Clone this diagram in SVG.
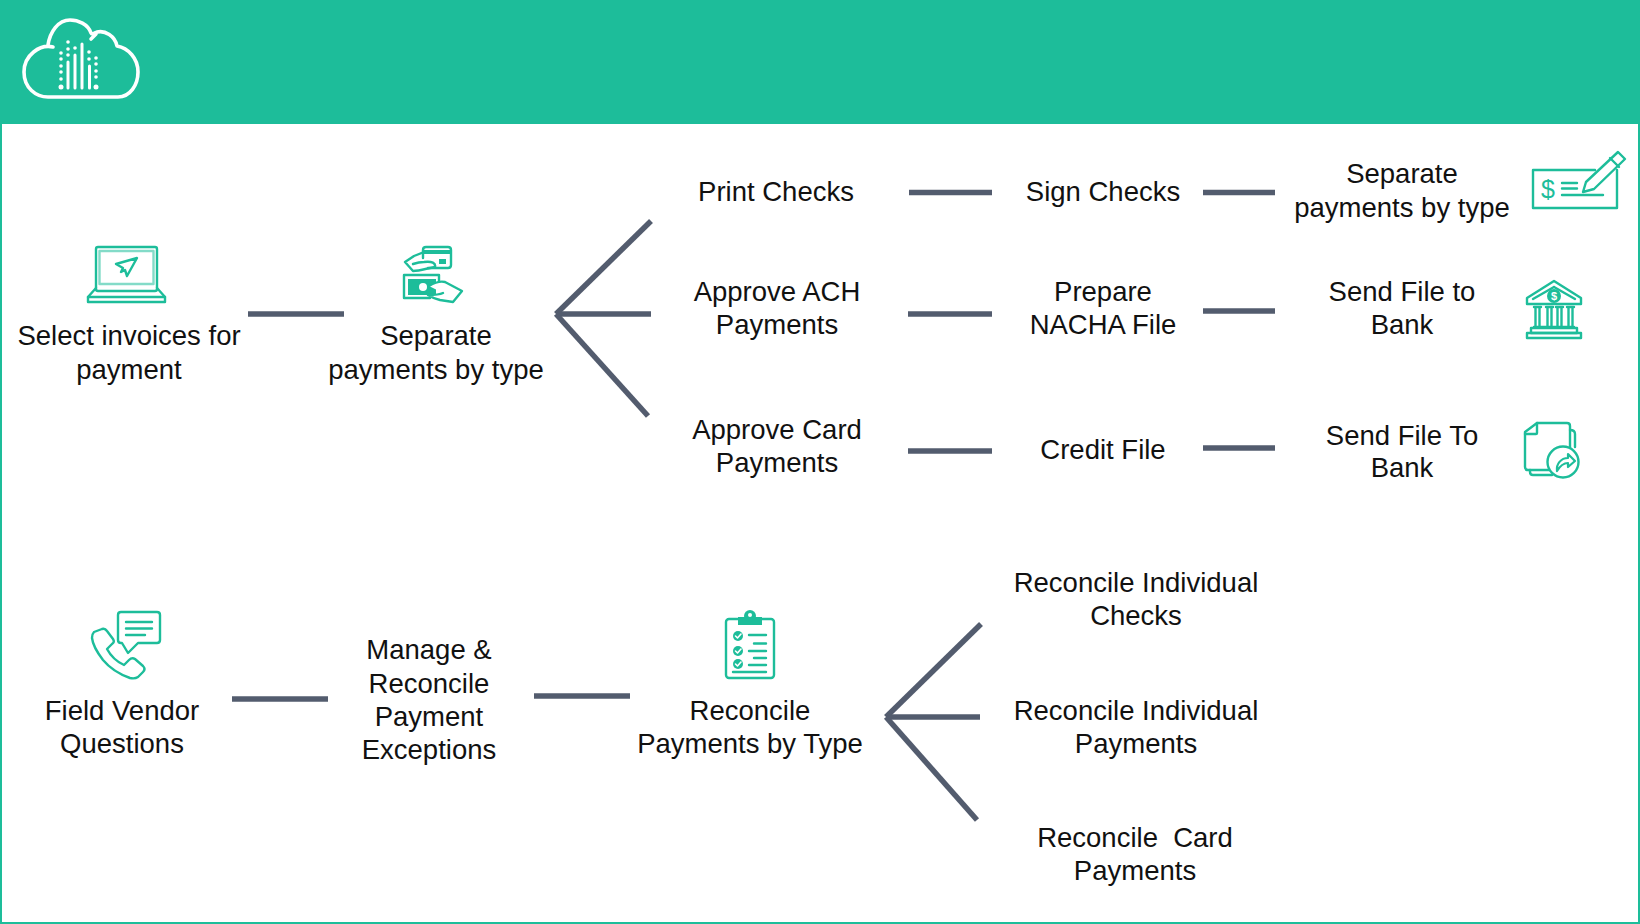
<svg xmlns="http://www.w3.org/2000/svg" width="1640" height="924" viewBox="0 0 1640 924">
<style>
text{font-family:"Liberation Sans",Arial,sans-serif;font-size:27.5px;fill:#111;text-anchor:middle;white-space:pre}
.c line{stroke:#535c6e;stroke-width:5.5;fill:none}
.i{fill:none;stroke:#1dbd9a;stroke-width:2.4;stroke-linejoin:round;stroke-linecap:round}
.i .f,.f{fill:#1dbd9a;stroke:none}
.w{fill:none;stroke:#fff;stroke-width:3.6;stroke-linecap:round;stroke-linejoin:round}
.d{fill:#fff}
.k{fill:none;stroke:#fff;stroke-width:1.6;stroke-linecap:round;stroke-linejoin:round}
</style>
<rect width="1640" height="924" fill="#fff"/>
<rect x="1" y="1" width="1638" height="922" fill="none" stroke="#1dbd9a" stroke-width="2"/>
<rect width="1640" height="124" fill="#1dbd9a"/>
<g id="logo">
<path class="w" d="M53 47C40 44 24 55 24 72C24 88 36 97 48 97L118 97C130 97 138 85 138 72C138 58 128 48 117 46C115 36 105 30 97 32C95 33 92 35 91 33C88 24 78 20 70 20C58 20 50 32 48 45"/>
<path class="w" d="M91 39L96 34"/>
<g stroke="#fff" stroke-width="3" stroke-linecap="round"><line x1="68" y1="62" x2="68" y2="88"/><line x1="75" y1="55" x2="75" y2="88"/><line x1="82" y1="44" x2="82" y2="88"/><line x1="89.500" y1="66" x2="89.500" y2="88"/></g>
<g class="d"><circle cx="61" cy="53" r="1.800"/><circle cx="61" cy="59" r="1.800"/><circle cx="61" cy="66" r="1.800"/><circle cx="61" cy="72" r="1.800"/><circle cx="61" cy="79" r="1.800"/><circle cx="61" cy="87" r="2.500"/><circle cx="68" cy="42" r="1.800"/><circle cx="68" cy="49" r="1.800"/><circle cx="68" cy="55" r="1.800"/><circle cx="75" cy="48" r="1.800"/><circle cx="89" cy="52" r="1.800"/><circle cx="89" cy="59" r="1.800"/><circle cx="96" cy="58" r="1.800"/><circle cx="96" cy="64" r="1.800"/><circle cx="96" cy="71" r="1.800"/><circle cx="96" cy="77" r="1.800"/><circle cx="96" cy="87" r="2.500"/></g>
</g>
<g class="c" id="connectors">
<line x1="248" y1="314" x2="344" y2="314"/>
<line x1="909" y1="192.500" x2="992" y2="192.500"/><line x1="1203" y1="192.500" x2="1275" y2="192.500"/>
<line x1="908" y1="314" x2="992" y2="314"/><line x1="1203" y1="311" x2="1275" y2="311"/>
<line x1="908" y1="451" x2="992" y2="451"/><line x1="1203" y1="448" x2="1275" y2="448"/>
<line x1="556" y1="314" x2="651" y2="221"/><line x1="556" y1="314" x2="651" y2="314"/><line x1="556" y1="314" x2="648" y2="416"/>
<line x1="232" y1="699" x2="328" y2="699"/><line x1="534" y1="696" x2="630" y2="696"/>
<line x1="886" y1="717" x2="981" y2="624"/><line x1="886" y1="717" x2="980" y2="717"/><line x1="886" y1="717" x2="977" y2="820"/>
</g>
<g id="n-select"><text x="129" y="345">Select invoices for</text><text x="129" y="379">payment</text>
<g class="i"><rect x="96" y="247" width="61" height="44" rx="2"/><rect x="99.500" y="251" width="54" height="33" stroke-opacity=".55"/><path d="M96 288L88 297V302H165V297L157 288"/><path d="M88 297H165"/><path d="M137 258L116 264L123 268L121 272L125 270L127 276Z"/></g></g>
<g id="n-separate"><text x="436" y="345">Separate</text><text x="436" y="379">payments by type</text>
<g class="i"><path d="M423 258V250Q423 247 426 247H448Q451 247 451 250V265Q451 268 448 268H428"/><path class="f" d="M423 250H451V254H423Z"/><rect class="f" x="439" y="259" width="7" height="5"/><path d="M424 252L414 256L405 262L413 271C420 271 428 268 435 267C436 263 432 261 424 262C420 262 416 263 413 264"/><path d="M439 283V275H404V298H430"/><path class="f" d="M408 279H436V295H408Z"/><circle cx="423" cy="287" r="4" fill="#fff" stroke="none"/><path d="M429 286C434 283 441 281 445 282L462 291L453 302L440 300C436 299 431 297 428 295C433 295 439 295 443 293" fill="#fff"/></g></g>
<g id="n-print"><text x="776" y="201">Print Checks</text></g>
<g id="n-sign"><text x="1103" y="201">Sign Checks</text></g>
<g id="n-sep2"><text x="1402" y="183">Separate</text><text x="1402" y="217">payments by type</text>
<g class="i"><path d="M1595 170H1533V208H1617V170"/><path d="M1583 192L1586 182L1618 152L1625 159L1594 189Z"/><path d="M1610 158L1619 167"/><path d="M1562 183H1577M1562 188.500H1577M1562 195H1603"/><text x="1548" y="198" style="font-size:25px;fill:#1dbd9a;stroke:none">$</text></g></g>
<g id="n-ach"><text x="777" y="301">Approve ACH</text><text x="777" y="334">Payments</text></g>
<g id="n-nacha"><text x="1103" y="301">Prepare</text><text x="1103" y="334">NACHA File</text></g>
<g id="n-send1"><text x="1402" y="301">Send File to</text><text x="1402" y="334">Bank</text>
<g class="i"><path d="M1554 281L1527 298V304H1581V298Z"/><path d="M1554 287L1533 299"/><path d="M1554 287L1575 299"/><circle class="f" cx="1554" cy="296" r="7"/><text x="1554" y="300" style="font-size:11px;fill:#fff;stroke:none;font-weight:bold">$</text><path d="M1534 307H1541M1535.500 307V327M1539.500 307V327M1546 307H1553M1547.500 307V327M1551.500 307V327M1556 307H1563M1557.500 307V327M1561.500 307V327M1567 307H1574M1568.500 307V327M1572.500 307V327M1534 327H1574"/><path d="M1531 328H1577V333H1531Z"/><rect x="1527" y="333" width="54" height="5"/></g></g>
<g id="n-card"><text x="777" y="439">Approve Card</text><text x="777" y="472">Payments</text></g>
<g id="n-credit"><text x="1103" y="459">Credit File</text></g>
<g id="n-send2"><text x="1402" y="445">Send File To</text><text x="1402" y="477">Bank</text>
<g class="i" stroke-width="2.600"><path d="M1570 448V426Q1570 423 1567 423H1537L1525 432V467Q1525 470 1528 470H1549"/><path d="M1537 423V433Q1537 434 1536 434H1525"/><path d="M1570 430Q1575 430 1575 434V447M1530 470V472Q1530 475 1533 475H1552"/><circle cx="1563" cy="462" r="15.500" fill="#fff"/><path d="M1557 471C1556 464 1561 458 1568 458V454L1575 461L1568 467V463C1564 463 1560 466 1557 471Z" stroke-width="2.200"/></g></g>
<g id="n-field"><text x="122" y="720">Field Vendor</text><text x="122" y="753">Questions</text>
<g class="i"><path d="M121 612H157Q160 612 160 615V640Q160 643 157 643H138L128 653L122 643H121Q118 643 118 640V615Q118 612 121 612Z"/><path d="M126 622H152M126 628.500H152M126 635H145"/><path d="M94 632L102 629Q105 628 107 631L113 639Q115 642 112 644L107 649Q113 660 124 665L129 660Q132 657 135 659L143 666Q146 669 143 672L138 677Q135 679 130 678Q113 672 103 660Q93 647 92 638Q92 634 94 632Z"/></g></g>
<g id="n-manage"><text x="429" y="659">Manage &amp;</text><text x="429" y="693">Reconcile</text><text x="429" y="726">Payment</text><text x="429" y="759">Exceptions</text></g>
<g id="n-reconcile"><text x="750" y="720">Reconcile</text><text x="750" y="753">Payments by Type</text>
<g class="i"><rect x="726" y="619" width="48" height="59" rx="3"/><path class="f" d="M738 617H762V625H738Z"/><circle class="f" cx="750" cy="616" r="6"/><circle cx="750" cy="615" r="2" fill="#fff" stroke="none"/><circle class="f" cx="738" cy="636" r="5"/><circle class="f" cx="738" cy="651" r="5"/><circle class="f" cx="738" cy="664" r="5"/><path class="k" d="M735.500 636L737.500 638L741 634M735.500 651L737.500 653L741 649M735.500 664L737.500 666L741 662"/><path d="M749 635H766M754 643.500H766M749 651H766M754 658H766M749 665H766M733 672H766"/></g></g>
<g id="n-ri1"><text x="1136" y="592">Reconcile Individual</text><text x="1136" y="625">Checks</text></g>
<g id="n-ri2"><text x="1136" y="720">Reconcile Individual</text><text x="1136" y="753">Payments</text></g>
<g id="n-ri3"><text x="1135" y="847">Reconcile  Card</text><text x="1135" y="880">Payments</text></g>
</svg>
